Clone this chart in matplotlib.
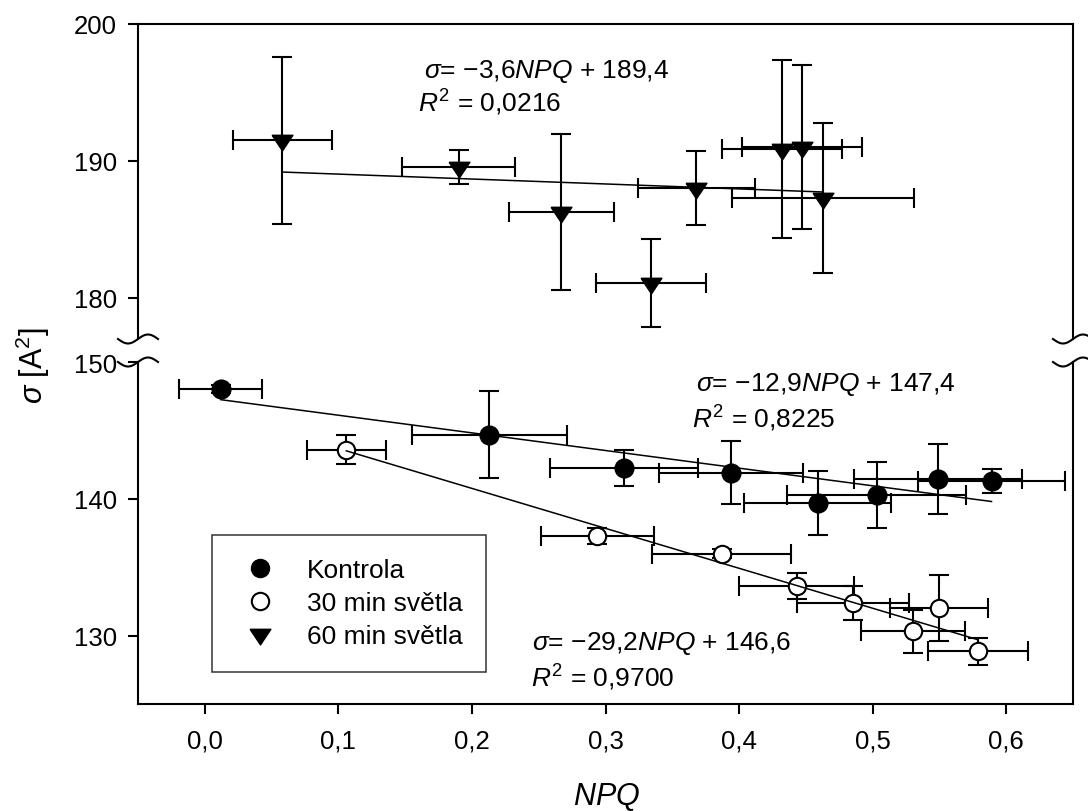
import numpy as np
import matplotlib
matplotlib.use("Agg")
import matplotlib.pyplot as plt
from matplotlib.lines import Line2D

plt.rcParams['font.family'] = ['Liberation Sans', 'DejaVu Sans']
plt.rcParams['mathtext.fontset'] = 'custom'
plt.rcParams['mathtext.rm'] = 'Liberation Sans'
plt.rcParams['mathtext.it'] = 'Liberation Sans:italic'
plt.rcParams['mathtext.bf'] = 'Liberation Sans:bold'

# Kontrola (filled circles)
k_x = [0.012, 0.213, 0.314, 0.394, 0.459, 0.503, 0.549, 0.589]
k_y = [148.0, 144.7, 142.25, 141.9, 139.7, 140.3, 141.45, 141.3]
k_xerr = [0.031, 0.058, 0.0555, 0.054, 0.055, 0.067, 0.063, 0.055]
k_yerr = [0.3, 3.15, 1.3, 2.3, 2.35, 2.4, 2.55, 0.9]

# 30 min svetla (open circles)
s30_x = [0.106, 0.294, 0.387, 0.443, 0.485, 0.530, 0.5495, 0.579]
s30_y = [143.6, 137.3, 136.0, 133.6, 132.4, 130.3, 132.0, 128.85]
s30_xerr = [0.0295, 0.042, 0.052, 0.043, 0.042, 0.039, 0.0365, 0.0375]
s30_yerr = [1.05, 0.6, 0.3, 0.95, 1.25, 1.6, 2.4, 1.0]

# 60 min svetla (triangles)
s60_x = [0.058, 0.190, 0.267, 0.334, 0.368, 0.432, 0.447, 0.463]
s60_y = [191.5, 189.55, 186.3, 181.1, 188.0, 190.9, 191.0, 187.3]
s60_xerr = [0.037, 0.042, 0.039, 0.041, 0.044, 0.045, 0.045, 0.068]
s60_yerr = [6.1, 1.25, 5.7, 3.2, 2.7, 6.5, 6.0, 5.5]

# regression coefficients (slope, intercept)
fit_k = (-12.9, 147.4)
fit_s30 = (-29.2, 146.6)
fit_s60 = (-3.6, 189.4)

labels = ['Kontrola', '30 min světla', '60 min světla']
xticks = [0.0, 0.1, 0.2, 0.3, 0.4, 0.5, 0.6]
xticklabels = ['0,0', '0,1', '0,2', '0,3', '0,4', '0,5', '0,6']
yticks_up = [180, 190, 200]
yticks_lo = [130, 140, 150]

W, H = 1088, 812
fig = plt.figure(figsize=(W / 100, H / 100), dpi=100)


def box(l, t, r, b):
    return [l / W, 1 - b / H, (r - l) / W, (b - t) / H]


ax_up = fig.add_axes(box(138, 25, 1073, 340))
ax_lo = fig.add_axes(box(138, 363, 1073, 705))

tri = [(-1, 0.5), (1, 0.5), (0, -1), (-1, 0.5)]
lw = 1.5
eb = dict(fmt='none', ecolor='black', elinewidth=lw, capsize=7, capthick=lw, zorder=2)

ax_lo.errorbar(k_x, k_y, xerr=k_xerr, yerr=k_yerr, **eb)
ax_lo.errorbar(s30_x, s30_y, xerr=s30_xerr, yerr=s30_yerr, **eb)
ax_up.errorbar(s60_x, s60_y, xerr=s60_xerr, yerr=s60_yerr, **eb)

ax_lo.plot(k_x, k_y, 'o', ms=13, mfc='black', mec='black', mew=lw, zorder=3)
ax_lo.plot(s30_x, s30_y, 'o', ms=12.5, mfc='white', mec='black', mew=lw, zorder=3)
ax_up.plot(s60_x, s60_y, marker=tri, ls='none', ms=15, mfc='black', mec='black', zorder=3)

for ax, xs, (a, b) in [(ax_lo, k_x, fit_k), (ax_lo, s30_x, fit_s30), (ax_up, s60_x, fit_s60)]:
    xx = np.array([min(xs), max(xs)])
    ax.plot(xx, a * xx + b, color='black', lw=1.1, zorder=4)

# legend
h1 = Line2D([], [], marker='o', ls='none', ms=13, mfc='black', mec='black')
h2 = Line2D([], [], marker='o', ls='none', ms=12.5, mfc='white', mec='black', mew=lw)
h3 = Line2D([], [], marker=tri, ls='none', ms=15, mfc='black', mec='black')
leg = ax_lo.legend([h1, h2, h3], labels, loc='lower left', bbox_to_anchor=(0.079, 0.0936),
                   borderaxespad=0, fontsize=19, frameon=True, fancybox=False,
                   borderpad=0.9, handlelength=1.82, handletextpad=0.87, labelspacing=0.34,
                   numpoints=1)
leg.get_frame().set_edgecolor('black')
leg.get_frame().set_linewidth(1.1)

# axes setup
for ax in (ax_up, ax_lo):
    ax.set_xlim(-0.05, 0.65)
    for s in ax.spines.values():
        s.set_linewidth(lw)
    ax.tick_params(direction='out', length=7, width=lw, labelsize=18.5, pad=8, right=False, top=False)

ax_up.set_ylim(177, 200)
ax_up.set_yticks(yticks_up)
ax_up.spines['bottom'].set_visible(False)
ax_up.tick_params(bottom=False, labelbottom=False)

ax_lo.set_ylim(125, 150)
ax_lo.set_yticks(yticks_lo)
ax_lo.spines['top'].set_visible(False)
ax_lo.set_xticks(xticks)
ax_lo.set_xticklabels(xticklabels)
ax_lo.tick_params(axis='x', pad=11)

# equations
fs = 19
ax_up.text(0.164, 196.6, r'$\sigma$= −3,6$NPQ$ + 189,4', fontsize=fs, va='center')
ax_up.text(0.160, 194.3, r'$R^2$ = 0,0216', fontsize=fs, va='center')
ax_lo.text(0.368, 148.4, r'$\sigma$= −12,9$NPQ$ + 147,4', fontsize=fs, va='center')
ax_lo.text(0.365, 145.9, r'$R^2$ = 0,8225', fontsize=fs, va='center')
ax_lo.text(0.245, 129.5, r'$\sigma$= −29,2$NPQ$ + 146,6', fontsize=fs, va='center')
ax_lo.text(0.244, 127.0, r'$R^2$ = 0,9700', fontsize=fs, va='center')


# break marks on the y axis
def brk(xc, yc):
    t = np.linspace(-1, 1, 41)
    xs = xc + 20 * t
    ys = (H - yc) + 4.5 * np.sin(np.pi * t)
    fig.add_artist(Line2D(xs / W, ys / H, color='black', lw=lw, transform=fig.transFigure))


for xc in (138, 1073):
    brk(xc, 340)
    brk(xc, 363)

fig.text(33 / W, 1 - 365 / H, r'$\sigma$ [A$^2$]', rotation=90, fontsize=22, ha='center', va='center')
fig.text(607 / W, 1 - 797 / H, r'$NPQ$', fontsize=22, ha='center', va='center')

fig.savefig('out.png', dpi=100)
